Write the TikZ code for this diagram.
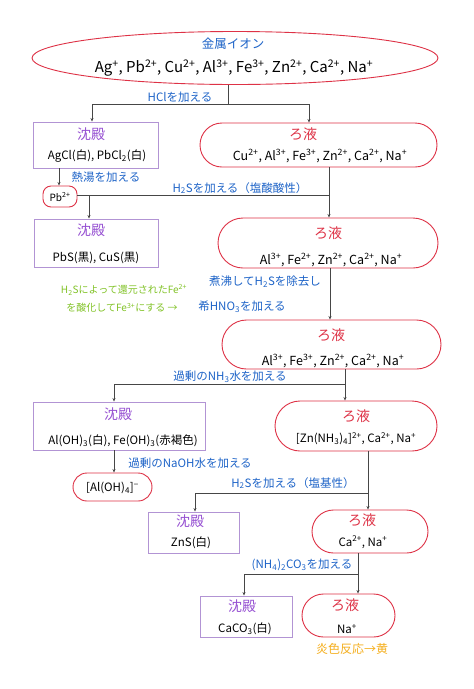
\documentclass[tikz,border=0pt]{standalone}
\usepackage{fontspec}
\setmainfont{Noto Sans CJK JP}
\usetikzlibrary{shapes.geometric,arrows.meta}
\definecolor{rd}{RGB}{222,50,70}
\definecolor{pu}{RGB}{178,148,212}
\definecolor{put}{RGB}{150,80,210}
\definecolor{bl}{RGB}{30,100,200}
\definecolor{gr}{RGB}{130,195,40}
\definecolor{orng}{RGB}{245,175,30}
\definecolor{lnc}{RGB}{70,70,70}
\newcommand\sps[1]{\textsuperscript{#1}}
\newcommand\sbs[1]{\textsubscript{#1}}
\begin{document}
\begin{tikzpicture}[x=1pt,y=-1pt,
  fbox/.style={draw=rd, line width=0.9pt, inner sep=0pt},
  pbox/.style={draw=pu, line width=0.9pt, inner sep=0pt},
  lbl/.style={text=bl, font=\fontsize{11.5}{13}\selectfont, inner sep=0pt},
  ftitle/.style={text=rd, font=\fontsize{14}{16}\selectfont, inner sep=0pt},
  ptitle/.style={text=put, font=\fontsize{14}{16}\selectfont, inner sep=0pt},
  ions/.style={text=black, font=\fontsize{12.5}{14}\selectfont, inner sep=0pt},
  pions/.style={text=black, font=\fontsize{11.5}{14}\selectfont, inner sep=0pt},
  lnk/.style={draw=lnc, line width=0.6pt},
  arr/.style={lnk, -{Stealth[length=3.5pt,width=3pt]}}]
\useasboundingbox (0,0) rectangle (474,689);
\fill[white] (0,0) rectangle (474,689);
% nodes
\node[fbox, ellipse, minimum width=406pt, minimum height=53pt] (top) at (235,58) {};
\node[text=bl, font=\fontsize{12.5}{14}\selectfont, inner sep=0pt] (topt) at (233,44) {金属イオン};
\node[ions, font=\fontsize{15}{17}\selectfont] (topi) at (234,68) {Ag\sps{+}, Pb\sps{2+}, Cu\sps{2+}, Al\sps{3+}, Fe\sps{3+}, Zn\sps{2+}, Ca\sps{2+}, Na\sps{+}};

\node[pbox, minimum width=125pt, minimum height=46pt] (p1) at (95.5,145) {};
\node[ptitle] (p1t) at (91,134) {沈殿};
\node[pions] (p1i) at (97,156) {AgCl(白), PbCl\sbs{2}(白)};

\node[fbox, minimum width=237pt, minimum height=44pt, rounded corners=22pt] (f1) at (318.5,145) {};
\node[ftitle] (f1t) at (303,134) {ろ液};
\node[ions] (f1i) at (320,156) {Cu\sps{2+}, Al\sps{3+}, Fe\sps{3+}, Zn\sps{2+}, Ca\sps{2+}, Na\sps{+}};

\node[fbox, minimum width=34pt, minimum height=21pt, rounded corners=8pt] (pb) at (60,196.5) {};
\node[pions, font=\fontsize{10}{12}\selectfont] (pbt) at (60,197) {Pb\sps{2+}};

\node[pbox, minimum width=124pt, minimum height=48pt] (p2) at (96,243) {};
\node[ptitle] (p2t) at (91,230) {沈殿};
\node[pions] (p2i) at (96,258) {PbS(黒), CuS(黒)};

\node[fbox, minimum width=220pt, minimum height=50pt, rounded corners=25pt] (f2) at (328,243) {};
\node[ftitle] (f2t) at (328,233) {ろ液};
\node[ions] (f2i) at (331,260) {Al\sps{3+}, Fe\sps{2+}, Zn\sps{2+}, Ca\sps{2+}, Na\sps{+}};

\node[fbox, minimum width=219pt, minimum height=49pt, rounded corners=24.5pt] (f3) at (331.5,344.5) {};
\node[ftitle] (f3t) at (331,335) {ろ液};
\node[ions] (f3i) at (333,361) {Al\sps{3+}, Fe\sps{3+}, Zn\sps{2+}, Ca\sps{2+}, Na\sps{+}};

\node[pbox, minimum width=172pt, minimum height=48pt] (p3) at (119,426) {};
\node[ptitle] (p3t) at (118,414) {沈殿};
\node[pions] (p3i) at (123,441) {Al(OH)\sbs{3}(白), Fe(OH)\sbs{3}(赤褐色)};

\node[fbox, minimum width=162pt, minimum height=50pt, rounded corners=25pt] (f4) at (356,426) {};
\node[ftitle] (f4t) at (356,416) {ろ液};
\node[pions] (f4i) at (356,439) {[Zn(NH\sbs{3})\sbs{4}]\sps{2+}, Ca\sps{2+}, Na\sps{+}};

\node[fbox, minimum width=79pt, minimum height=28pt, rounded corners=14pt] (al) at (112.5,487) {};
\node[pions] (alt) at (112.5,488) {[Al(OH)\sbs{4}]\sps{−}};

\node[pbox, minimum width=91pt, minimum height=41pt] (p4) at (193.5,532.5) {};
\node[ptitle] (p4t) at (190,521) {沈殿};
\node[pions] (p4i) at (191,543) {ZnS(白)};

\node[fbox, minimum width=116pt, minimum height=43pt, rounded corners=21.5pt] (f5) at (370,531.5) {};
\node[ftitle] (f5t) at (362,520) {ろ液};
\node[pions] (f5i) at (363,542) {Ca\sps{2+}, Na\sps{+}};

\node[pbox, minimum width=92pt, minimum height=41pt] (p5) at (246,616.5) {};
\node[ptitle] (p5t) at (242,606) {沈殿};
\node[pions] (p5i) at (245,629) {CaCO\sbs{3}(白)};

\node[fbox, minimum width=93pt, minimum height=43pt, rounded corners=21.5pt] (f6) at (348.5,615.5) {};
\node[ftitle] (f6t) at (345,605) {ろ液};
\node[pions] (f6i) at (347,629) {Na\sps{+}};

% labels
\node[lbl] (l1) at (180,97) {HClを加える};
\node[lbl] (l2) at (106,177) {熱湯を加える};
\node[lbl] (l3) at (240,188) {H\sbs{2}Sを加える（塩酸酸性）};
\node[lbl] (l4) at (265,282) {煮沸してH\sbs{2}Sを除去し};
\node[lbl] (l5) at (242,307) {希HNO\sbs{3}を加える};
\node[lbl, text=gr, font=\fontsize{10}{12}\selectfont] (g1) at (124,290) {H\sbs{2}Sによって還元されたFe\sps{2+}};
\node[lbl, text=gr, font=\fontsize{10}{12}\selectfont] (g2) at (122,308) {を酸化してFe\sps{3+}にする →};
\node[lbl] (l6) at (230,377) {過剰のNH\sbs{3}水を加える};
\node[lbl] (l7) at (190,463) {過剰のNaOH水を加える};
\node[lbl] (l8) at (293,483) {H\sbs{2}Sを加える（塩基性）};
\node[lbl] (l9) at (302,565) {(NH\sbs{4})\sbs{2}CO\sbs{3}を加える};
\node[lbl, text=orng, font=\fontsize{12}{14}\selectfont] (o1) at (352,649) {炎色反応→黄};

% connectors
\coordinate (j1) at (228,104);
\coordinate (x92) at (92,0);
\coordinate (x309) at (309,0);
\coordinate (x59) at (59,0);
\coordinate (j2) at (329,195);
\coordinate (j3) at (89,195);
\coordinate (x330) at (330,0);
\coordinate (j4) at (345,384);
\coordinate (x114) at (114,0);
\coordinate (j5) at (368,493);
\coordinate (x195) at (195,0);
\coordinate (j6) at (358,574);
\coordinate (x244) at (244,0);
\draw[lnk] (top.south -| j1) -- (j1);
\draw[arr] (j1) -| (p1.north -| x92);
\draw[arr] (j1) -| (f1.north -| x309);
\draw[arr] (p1.south -| x59) -- (pb.north -| x59);
\draw[lnk] (pb.east |- j2) -- (j2);
\draw[arr] (f1.south -| j2) -- (f2.north -| j2);
\draw[arr] (j3) -- (p2.north -| j3);
\draw[arr] (f2.south -| x330) -- (f3.north -| x330);
\draw[arr] (f3.south -| j4) -- (f4.north -| j4);
\draw[arr] (j4) -| (p3.north -| x114);
\draw[arr] (p3.south -| x114) -- (al.north -| x114);
\draw[arr] (f4.south -| j5) -- (f5.north -| j5);
\draw[arr] (j5) -| (p4.north -| x195);
\draw[arr] (f5.south -| j6) -- (f6.north -| j6);
\draw[arr] (j6) -| (p5.north -| x244);
\end{tikzpicture}
\end{document}
